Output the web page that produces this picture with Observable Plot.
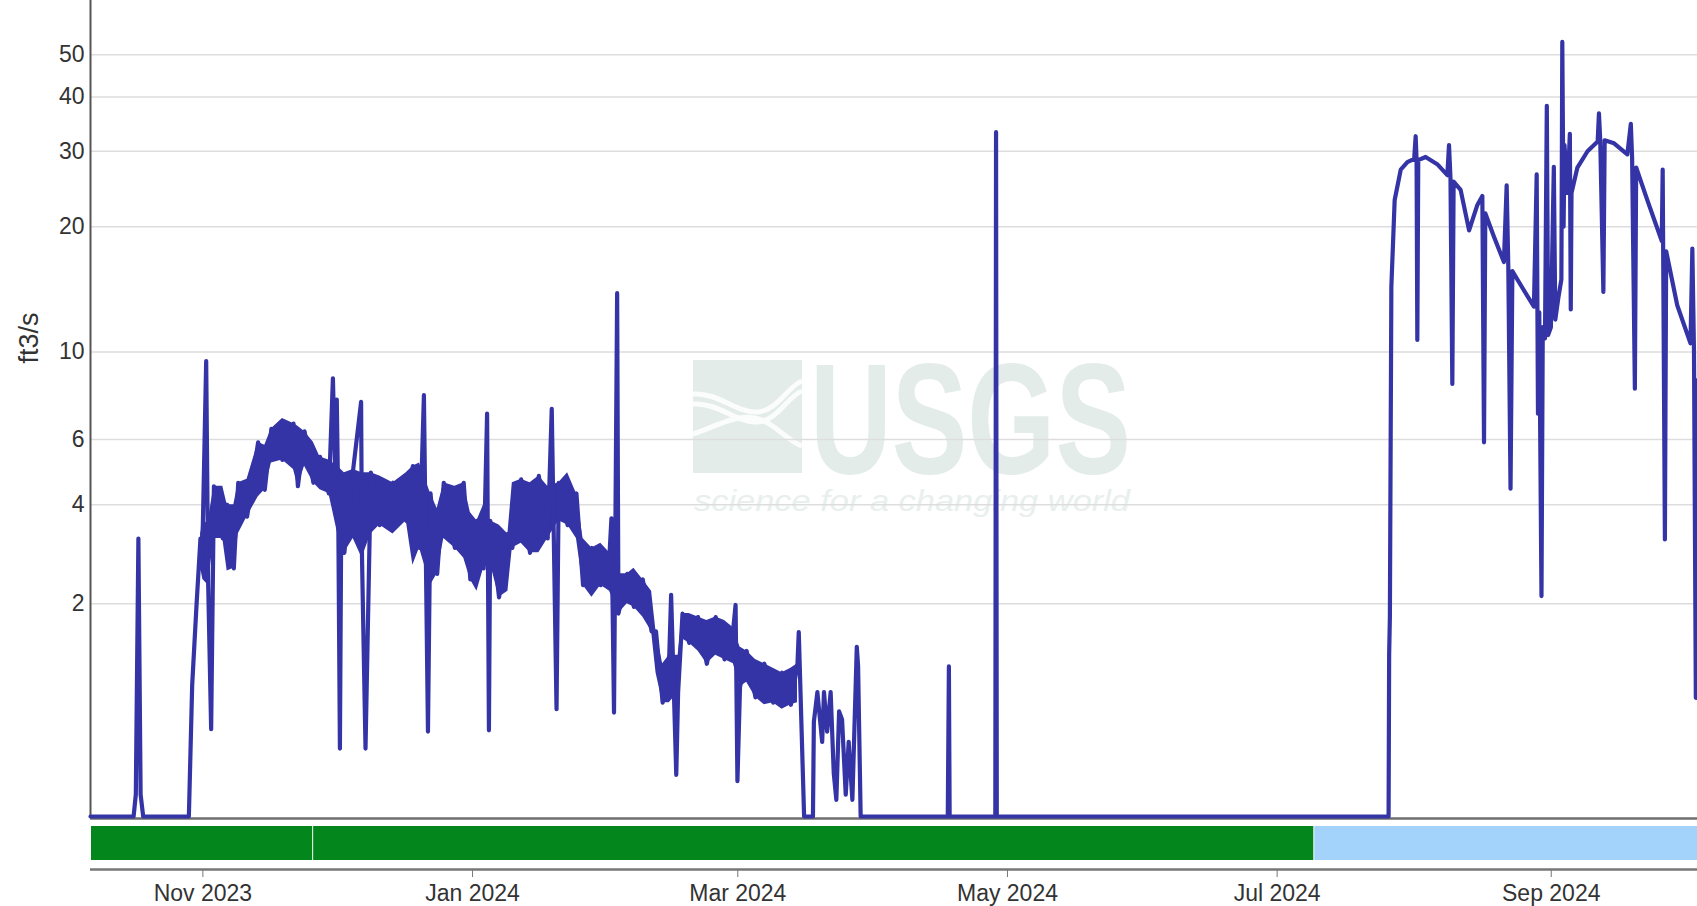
<!DOCTYPE html>
<html><head><meta charset="utf-8">
<script src="https://cdn.jsdelivr.net/npm/d3@7"></script>
<script src="https://cdn.jsdelivr.net/npm/@observablehq/plot@0.6"></script>
<style>
html,body{margin:0;padding:0;background:#fff;}
#chart{width:1697px;}
#chart svg{display:block;}
</style></head><body><div id="chart"></div>
<script>
// ---- data ----
const xDomain = ["2023-10-06T14:00Z", "2024-10-04T02:00Z"];
const yTicks = [2, 4, 6, 10, 20, 30, 40, 50];

// discharge line: zero stretches, rises and spikes (ft3/s)
const lineDates = [
 "2023-10-06T14:00Z","2023-10-16T08:00Z","2023-10-16T20:00Z","2023-10-17T10:00Z","2023-10-17T22:00Z","2023-10-18T12:00Z",
 "2023-10-28T20:00Z","2023-10-29T14:00Z","2023-10-30T13:00Z","2023-10-31T11:00Z",
 "2023-11-01T18:00Z","2023-11-02T21:00Z",
 "2023-11-30T10:00Z","2023-11-30T22:00Z","2023-12-01T07:00Z","2023-12-01T14:00Z","2023-12-02T00:00Z","2023-12-02T07:00Z",
 "2023-12-06T19:00Z","2023-12-07T19:00Z","2023-12-21T00:00Z","2023-12-21T22:00Z",
 "2024-01-04T07:00Z","2024-01-04T17:00Z","2024-01-18T22:00Z","2024-01-20T00:00Z",
 "2024-02-01T10:00Z","2024-02-02T00:00Z","2024-02-02T17:00Z",
 "2024-02-14T22:00Z","2024-02-16T02:00Z","2024-02-29T12:00Z","2024-02-29T22:00Z",
 "2024-03-14T19:00Z","2024-03-16T00:00Z",
 "2024-03-18T00:00Z","2024-03-18T05:00Z","2024-03-19T00:00Z","2024-03-20T02:00Z","2024-03-20T12:00Z","2024-03-21T05:00Z",
 "2024-03-22T00:00Z","2024-03-22T17:00Z","2024-03-23T07:00Z","2024-03-23T22:00Z","2024-03-24T14:00Z","2024-03-25T10:00Z",
 "2024-03-26T02:00Z","2024-03-26T22:00Z","2024-03-27T22:00Z","2024-03-28T05:00Z","2024-03-28T19:00Z",
 "2024-04-17T12:00Z","2024-04-17T18:00Z","2024-04-17T22:00Z",
 "2024-04-28T06:00Z","2024-04-28T10:00Z","2024-04-28T14:00Z",
 "2024-07-26T05:00Z","2024-07-26T08:00Z","2024-07-26T12:00Z","2024-07-26T20:00Z","2024-07-27T14:00Z","2024-07-28T23:00Z",
 "2024-07-30T11:00Z","2024-08-01T00:00Z","2024-08-01T08:00Z","2024-08-01T13:00Z","2024-08-01T17:00Z","2024-08-01T22:00Z",
 "2024-08-03T14:00Z","2024-08-06T05:00Z","2024-08-08T12:00Z","2024-08-08T21:00Z","2024-08-09T05:00Z","2024-08-09T15:00Z",
 "2024-08-09T22:00Z","2024-08-11T12:00Z","2024-08-13T10:00Z","2024-08-15T07:00Z","2024-08-16T10:00Z","2024-08-16T19:00Z",
 "2024-08-17T02:00Z","2024-08-19T00:00Z","2024-08-21T07:00Z","2024-08-21T22:00Z","2024-08-22T07:00Z","2024-08-22T19:00Z",
 "2024-08-23T05:00Z","2024-08-25T12:00Z","2024-08-28T02:00Z","2024-08-28T17:00Z","2024-08-29T00:00Z","2024-08-29T07:00Z",
 "2024-08-29T19:00Z","2024-08-30T02:00Z","2024-08-30T14:00Z","2024-08-31T00:00Z","2024-08-31T07:00Z","2024-08-31T22:00Z",
 "2024-09-01T14:00Z","2024-09-01T22:00Z","2024-09-02T14:00Z","2024-09-03T07:00Z","2024-09-03T12:00Z","2024-09-03T19:00Z",
 "2024-09-04T00:00Z","2024-09-04T16:00Z","2024-09-05T05:00Z","2024-09-05T10:00Z","2024-09-05T14:00Z","2024-09-06T22:00Z",
 "2024-09-09T05:00Z","2024-09-11T12:00Z","2024-09-11T19:00Z","2024-09-12T02:00Z","2024-09-12T19:00Z","2024-09-13T02:00Z",
 "2024-09-15T05:00Z","2024-09-18T05:00Z","2024-09-19T00:00Z","2024-09-19T07:00Z","2024-09-19T22:00Z","2024-09-20T05:00Z",
 "2024-09-22T19:00Z","2024-09-26T00:00Z","2024-09-26T05:00Z","2024-09-26T17:00Z","2024-09-27T00:00Z","2024-09-29T12:00Z",
 "2024-10-02T12:00Z","2024-10-02T22:00Z","2024-10-03T07:00Z","2024-10-03T17:00Z","2024-10-04T00:00Z","2024-10-04T12:00Z"
];
const lineValues = [
 0,0,0.12,3.2,0.12,0,
 0,0.97,1.95,3.2,
 9.5,0.57,
 8.6,5.0,7.6,4.5,0.42,3.5,
 7.5,0.42,7.8,0.55,
 7.0,0.56,7.2,0.74,
 3.66,0.71,13.9,
 2.14,0.24,1.98,0.2,
 1.59,0,
 0,0.63,0.9,0.47,0.9,0.55,
 0.9,0.25,0.09,0.72,0.65,0.12,
 0.47,0.09,1.4,1.18,0,
 0,1.17,0,
 0,33.2,0,
 0,1.3,1.8,14.4,23.1,27.2,
 28.3,28.8,32.5,28.5,10.7,28.6,
 29.1,28.0,26.4,31.0,26.0,8.33,
 25.5,24.4,19.6,22.5,23.6,5.9,
 21.5,19.0,16.5,25.0,16.0,4.43,
 15.7,14.3,12.9,26.5,7.0,12.5,
 2.12,11.5,10.8,38.2,11.0,11.5,
 27.6,12.0,13.5,15,53.5,20,
 31,24,32.9,12.7,24,27.5,
 30.0,31.6,36.7,31.8,14.0,31.8,
 31.3,29.5,34.7,29,8.1,27.5,
 23,18.5,27.2,3.18,17.5,13,
 10.5,17.75,10,0.845,8.5,8.0
];

// range of the rapidly fluctuating record, Nov 2023 - Mar 2024 (ft3/s)
const bandDates = [
 "2023-10-31T12:00Z",
 "2023-11-01T00:00Z","2023-11-02T05:00Z","2023-11-03T12:00Z","2023-11-05T12:00Z","2023-11-06T12:00Z","2023-11-08T00:00Z",
 "2023-11-09T00:00Z","2023-11-11T00:00Z","2023-11-13T12:00Z","2023-11-15T00:00Z","2023-11-16T12:00Z","2023-11-19T00:00Z",
 "2023-11-21T12:00Z","2023-11-22T12:00Z","2023-11-24T00:00Z","2023-11-26T00:00Z","2023-11-27T12:00Z","2023-11-29T12:00Z",
 "2023-12-01T12:00Z","2023-12-03T00:00Z","2023-12-05T00:00Z","2023-12-07T00:00Z","2023-12-09T00:00Z","2023-12-11T00:00Z",
 "2023-12-14T00:00Z","2023-12-17T00:00Z","2023-12-18T12:00Z","2023-12-20T00:00Z","2023-12-22T12:00Z","2023-12-24T00:00Z",
 "2023-12-25T12:00Z","2023-12-28T00:00Z","2023-12-30T00:00Z","2023-12-31T12:00Z",
 "2024-01-02T00:00Z","2024-01-03T12:00Z","2024-01-05T00:00Z","2024-01-07T00:00Z","2024-01-09T00:00Z","2024-01-10T00:00Z",
 "2024-01-12T00:00Z","2024-01-14T00:00Z","2024-01-16T00:00Z","2024-01-18T00:00Z","2024-01-20T12:00Z","2024-01-22T12:00Z",
 "2024-01-24T12:00Z","2024-01-26T00:00Z","2024-01-28T00:00Z","2024-01-30T00:00Z",
 "2024-02-01T00:00Z","2024-02-03T00:00Z","2024-02-05T00:00Z","2024-02-06T12:00Z","2024-02-08T12:00Z","2024-02-10T12:00Z",
 "2024-02-11T12:00Z","2024-02-13T00:00Z","2024-02-14T12:00Z","2024-02-16T12:00Z","2024-02-17T12:00Z","2024-02-19T00:00Z",
 "2024-02-21T00:00Z","2024-02-23T00:00Z","2024-02-25T00:00Z","2024-02-27T00:00Z","2024-02-29T00:00Z",
 "2024-03-01T12:00Z","2024-03-03T00:00Z","2024-03-05T00:00Z","2024-03-07T00:00Z","2024-03-09T00:00Z","2024-03-11T00:00Z",
 "2024-03-13T00:00Z","2024-03-14T12:00Z"
];
const bandLow = [
 2.6,
 2.4,2.3,3.2,3.2,2.55,2.6,3.3,3.7,4.2,4.4,5.2,5.3,5.0,4.5,5.1,4.6,4.4,4.3,
 3.3,2.9,3.2,2.8,3.3,3.5,3.3,3.6,2.66,3.0,2.3,2.5,3.2,3.0,2.8,2.4,
 2.2,2.6,2.7,2.1,2.2,3.0,3.1,2.9,2.9,3.2,3.6,3.5,3.2,2.3,2.1,2.3,
 2.2,1.85,2.0,1.95,1.8,1.6,1.1,0.8,0.8,0.9,1.5,1.45,1.35,1.2,1.3,1.25,1.2,
 0.95,1.0,0.85,0.78,0.8,0.74,0.78,0.8
];
const bandHigh = [
 3.3,
 3.5,3.6,4.5,4.5,4.0,4.0,4.6,4.7,5.9,5.8,6.4,6.8,6.6,6.5,6.3,5.9,5.4,5.3,
 5.1,4.9,5.0,4.9,4.9,4.8,4.6,4.9,5.1,5.2,4.3,3.9,4.6,4.5,4.6,3.8,
 3.6,4.0,3.6,3.5,3.3,4.6,4.7,4.6,4.8,4.5,4.6,4.9,4.3,3.2,3.0,3.1,
 2.9,2.5,2.5,2.6,2.4,2.2,1.6,1.2,1.3,1.3,1.85,1.85,1.8,1.75,1.8,1.75,1.65,
 1.4,1.35,1.25,1.2,1.15,1.1,1.15,1.2
];

// data-approval status bar
const segStart = ["2023-10-06T14:00Z", "2023-11-25T20:00Z", "2024-07-09T07:00Z"];
const segEnd   = ["2023-11-25T20:00Z", "2024-07-09T07:00Z", "2024-10-04T02:00Z"];
const segStatus = ["Approved", "Approved", "Provisional"];

// ---- build tables ----
const line = lineDates.map((d, i) => ({date: new Date(d), value: lineValues[i]}));
const band = bandDates.map((d, i) => ({date: new Date(d), low: bandLow[i], high: bandHigh[i]}));
const zig = band.map((b, i) => ({date: b.date, value: i % 2 ? b.high : b.low}));
const series = line.concat(zig).sort((a, b) => a.date - b.date);
const segs = segStart.map((s, i) => ({start: new Date(s), end: new Date(segEnd[i]), status: segStatus[i]}));
const xd = xDomain.map(d => new Date(d));

const blue = "#3434a6";
const font = "'Liberation Sans', Arial, sans-serif";
const wm = "#e4ece9";

const watermark = () => {
  const g = d3.create("svg:g").attr("text-anchor", "start");
  g.append("rect").attr("x", 693).attr("y", 360).attr("width", 109).attr("height", 113).attr("fill", wm);
  const waves = [
    "M693,394 C718,392 738,414 758,412 S788,386 802,381",
    "M693,404 C718,402 738,424 758,422 S788,396 802,391",
    "M693,434 C712,428 736,414 755,418 S786,440 802,446"
  ];
  waves.forEach(p => g.append("path").attr("d", p).attr("fill", "none").attr("stroke", "#fbfcfc").attr("stroke-width", 5));
  g.append("text").attr("x", 810).attr("y", 473).attr("font-size", 158).attr("font-weight", "bold")
    .attr("font-family", font).attr("textLength", 321).attr("lengthAdjust", "spacingAndGlyphs")
    .attr("fill", wm).text("USGS");
  g.append("text").attr("x", 694).attr("y", 511).attr("font-size", 30).attr("font-style", "italic")
    .attr("font-family", font).attr("textLength", 436).attr("lengthAdjust", "spacingAndGlyphs")
    .attr("fill", "#e8efed").text("science for a changing world");
  return g.node();
};

const main = Plot.plot({
  width: 1697, height: 820,
  marginLeft: 90, marginRight: 0, marginTop: 0, marginBottom: 4,
  style: {fontFamily: font, background: "#fff"},
  x: {type: "utc", domain: xd, axis: null},
  y: {type: "symlog", constant: 1, domain: [0, 66.5], axis: null},
  marks: [
    watermark,
    Plot.gridY(yTicks, {stroke: "#dddddd", strokeOpacity: 1, strokeWidth: 1.5}),
    Plot.axisY(yTicks, {tickSize: 0, tickPadding: 6, fontSize: 23, fill: "#333", label: null, tickFormat: d => String(d)}),
    Plot.ruleY([0], {stroke: "#6e6e6e", strokeWidth: 2.5, dy: 2}),
    Plot.ruleX([xd[0]], {stroke: "#555", strokeWidth: 2}),
    Plot.areaY(band, {x: "date", y1: "low", y2: "high", fill: blue}),
    Plot.line(series, {x: "date", y: "value", stroke: blue, strokeWidth: 4.2}),
    Plot.text(["ft3/s"], {frameAnchor: "left", dx: -61, dy: -45, rotate: -90, fontSize: 27, fill: "#333"})
  ]
});

const bar = Plot.plot({
  width: 1697, height: 86,
  marginLeft: 90, marginRight: 0, marginTop: 6, marginBottom: 37,
  style: {fontFamily: font, background: "#fff"},
  x: {type: "utc", domain: xd, axis: null},
  y: {domain: [0, 1], axis: null},
  color: {domain: ["Approved", "Provisional"], range: ["#03871d", "#a3d3fa"]},
  marks: [
    Plot.rect(segs, {x1: "start", x2: "end", y1: 0, y2: 1, fill: "status", insetBottom: 9, insetLeft: 1}),
    Plot.ruleY([0], {stroke: "#777", strokeWidth: 2.5}),
    Plot.axisX({ticks: d3.utcMonth.every(2), tickFormat: d3.utcFormat("%b %Y"), tickSize: 8, tickPadding: 7,
      fontSize: 23, fill: "#333", stroke: "#777", label: null})
  ]
});

document.getElementById("chart").append(main, bar);
</script>
</body></html>
